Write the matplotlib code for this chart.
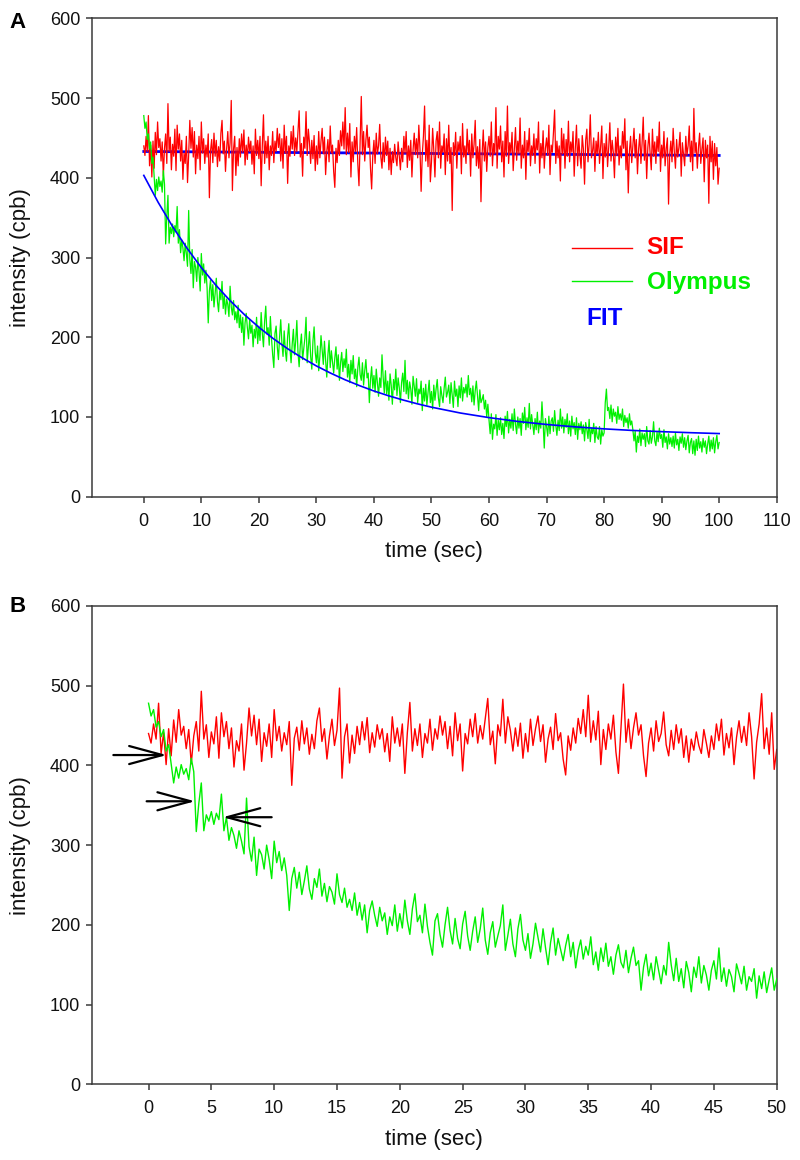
import numpy as np
import matplotlib
matplotlib.use("Agg")
import matplotlib.pyplot as plt

plt.rcParams['font.family'] = ['Liberation Sans', 'DejaVu Sans']

# ---------------- data ----------------
SAMPLE_STEP = 0.2  # seconds between samples

sif = [
    # 0 - 10 s
    440, 428, 452, 433, 478, 415, 441, 401, 446, 412, 457, 429, 470, 438, 449,
    421, 445, 402, 437, 455, 418, 493, 433, 451, 410, 442, 427, 461, 409, 466,
    436, 455, 421, 447, 398, 431, 418, 452, 394, 428, 472, 437, 463, 426, 458,
    405, 441, 424, 452, 410,
    # 10 - 20 s
    470, 431, 449, 418, 441, 426, 455, 375, 434, 448, 419, 456, 427, 447, 414,
    439, 421, 456, 472, 430, 446, 408, 437, 458, 425, 444, 497, 384, 436, 452,
    403, 438, 415, 449, 426, 455, 432, 460, 416, 441, 423, 451, 433, 446, 417,
    440, 405, 461, 428, 447,
    # 20 - 30 s
    424, 452, 390, 441, 479, 418, 446, 425, 452, 410, 440, 428, 458, 419, 446,
    433, 462, 438, 455, 421, 449, 412, 466, 431, 452, 393, 440, 427, 458, 436,
    465, 428, 450, 433, 459, 484, 426, 443, 402, 451, 437, 483, 428, 461, 444,
    418, 447, 424, 453, 409,
    # 30 - 40 s
    440, 417, 458, 425, 446, 462, 430, 451, 404, 433, 448, 420, 465, 431, 441,
    408, 388, 437, 419, 447, 428, 459, 440, 470, 436, 488, 429, 456, 432, 468,
    401, 445, 420, 452, 433, 463, 417, 390, 447, 502, 429, 458, 421, 447, 466,
    438, 451, 412, 386, 428,
    # 40 - 50 s
    447, 418, 456, 430, 440, 467, 426, 412, 444, 420, 451, 428, 446, 410, 437,
    404, 433, 419, 442, 425, 415, 445, 428, 410, 437, 420, 452, 431, 458, 413,
    440, 422, 447, 401, 435, 456, 429, 449, 425, 466, 436, 383, 429, 452, 490,
    421, 447, 414, 466, 395,
    # 50 - 60 s
    420, 462, 435, 401, 446, 458, 425, 470, 412, 440, 432, 455, 404, 449, 421,
    466, 418, 438, 359, 444, 428, 457, 412, 445, 433, 452, 405, 468, 426, 440,
    418, 461, 430, 447, 402, 455, 425, 442, 472, 415, 439, 412, 448, 370, 430,
    460, 421, 445, 408, 438,
    # 60 - 70 s
    452, 427, 470, 415, 443, 430, 488, 412, 452, 436, 465, 420, 446, 401, 458,
    427, 490, 418, 444, 431, 457, 409, 437, 463, 422, 446, 430, 475, 412, 441,
    425, 458, 398, 447, 433, 462, 415, 440, 428, 455, 418, 449, 435, 470, 406,
    443, 425, 459, 412, 437,
    # 70 - 80 s
    450, 428, 466, 404, 441, 432, 457, 485, 418, 446, 425, 440, 396, 462, 430,
    455, 412, 448, 427, 471, 420, 445, 432, 458, 402, 438, 466, 415, 449, 428,
    412, 453, 436, 392, 447, 461, 420, 442, 479, 425, 434, 450, 408, 446, 430,
    457, 418, 440, 465, 399,
    # 80 - 90 s
    443, 426, 455, 414, 438, 469, 421, 447, 432, 400, 451, 428, 462, 416, 440,
    425, 458, 437, 474, 410, 446, 381, 433, 452, 419, 440, 462, 425, 448, 405,
    436, 455, 418, 443, 476, 422, 447, 399, 438, 456, 430, 410, 461, 427, 445,
    418, 452, 433, 470, 408,
    # 90 - 100 s
    441, 425, 458, 415, 437, 450, 367, 429, 446, 420, 462, 433, 412, 448, 426,
    438, 457, 402, 444, 430, 415, 452, 428, 440, 465, 420, 446, 409, 487, 431,
    444, 412, 438, 456, 418, 436, 450, 395, 447, 425, 441, 368, 452, 420, 446,
    398, 443, 415, 438, 392,
    412,
]

olympus = [
    # 0 - 10 s
    478, 462, 470, 448, 455, 436, 445, 418, 426, 402, 378, 398, 384, 401, 389,
    396, 382, 409, 392, 317, 352, 378, 318, 338, 330, 342, 326, 340, 332, 364,
    318, 335, 306, 322, 312, 296, 318, 305, 289, 359, 298, 280, 310, 262, 295,
    288, 270, 300, 282, 258,
    # 10 - 20 s
    305, 278, 292, 268, 284, 262, 218, 258, 272, 246, 266, 238, 255, 274, 245,
    232, 258, 247, 270, 236, 252, 229, 248, 241, 226, 264, 238, 228, 246, 222,
    232, 218, 240, 212, 228, 206, 225, 190, 218, 230, 212, 198, 222, 205, 215,
    188, 210, 199, 225, 192,
    # 20 - 30 s
    214, 196, 231, 205, 188, 220, 239, 204, 212, 190, 226, 198, 178, 162, 205,
    214, 188, 172, 200, 222, 193, 176, 208, 183, 170, 201, 217, 186, 168, 192,
    210, 178, 195, 221, 181, 163, 190, 204, 172, 186, 199, 225, 168, 187, 207,
    176, 160, 195, 213, 181,
    # 30 - 40 s
    168, 189, 158, 176, 202, 184, 166, 195, 171, 150, 178, 196, 162, 183, 169,
    155, 174, 188, 160, 178, 146, 168, 181, 157, 173, 162, 185, 150, 166, 143,
    171, 154, 177, 148, 160, 138, 162, 175, 153, 146, 168, 140, 158, 172, 149,
    155, 118, 147, 163, 136,
    # 40 - 50 s
    152, 131, 160, 143, 126, 149, 137, 178, 150, 130, 158, 129, 145, 121, 154,
    140, 116, 147, 134, 160, 127, 149, 137, 118, 143, 155, 132, 171, 129, 146,
    123, 144, 135, 116, 151, 139, 126, 148, 118, 135, 129, 145, 108, 136, 120,
    141, 115, 131, 146, 118,
    # 50 - 60 s
    132, 110, 140, 121, 135, 147, 124, 113, 138, 127, 118, 136, 150, 125, 131,
    140, 117, 143, 128, 112, 145, 126, 135, 113, 139, 124, 149, 120, 137, 130,
    141, 125, 152, 128, 136, 119, 139, 115, 133, 145, 127, 108, 134, 118, 122,
    128, 110, 121, 100, 116,
    # 60 - 70 s
    96, 79, 104, 72, 91, 85, 103, 77, 96, 84, 99, 78, 92, 73, 101,
    88, 107, 80, 97, 86, 104, 83, 110, 91, 79, 100, 86, 98, 77, 105,
    92, 112, 84, 99, 87, 117, 85, 103, 90, 78, 98, 84, 106, 80, 95,
    86, 119, 93, 61, 98,
    # 70 - 80 s
    88, 76, 101, 79, 95, 99, 82, 108, 90, 77, 96, 83, 110, 86, 100,
    80, 97, 87, 104, 79, 95, 76, 101, 85, 93, 78, 99, 72, 92, 84,
    94, 79, 90, 70, 93, 84, 73, 97, 69, 86, 79, 92, 68, 88, 75,
    72, 88, 66, 84, 76,
    # 80 - 90 s
    80, 118, 135, 108, 112, 98, 115, 94, 110, 101, 106, 92, 113, 97, 104,
    96, 110, 88, 102, 93, 99, 86, 104, 90, 95, 84, 70, 82, 56, 76,
    68, 85, 64, 80, 72, 79, 63, 88, 70, 66, 83, 67, 75, 94, 70,
    64, 81, 69, 86, 73,
    # 90 - 100 s
    78, 62, 84, 68, 75, 60, 79, 66, 74, 63, 76, 61, 80, 65, 72,
    58, 75, 67, 79, 62, 74, 59, 70, 77, 55, 68, 73, 54, 70, 52,
    72, 58, 76, 61, 69, 56, 73, 62, 70, 54, 66, 76, 57, 71, 60,
    74, 55, 69, 77, 60,
    68,
]

# exponential fit of Olympus trace
fit_t = [0, 2.5, 5, 7.5, 10, 12.5, 15, 17.5, 20, 22.5, 25, 27.5, 30, 32.5, 35,
         37.5, 40, 42.5, 45, 47.5, 50, 55, 60, 65, 70, 75, 80, 85, 90, 95, 100]
fit_olympus = [403, 369.2, 338.9, 311.8, 287.3, 265.5, 245.9, 228.3, 212.5,
               198.3, 185.6, 174.3, 164.0, 154.9, 146.6, 139.3, 132.6, 126.7,
               121.4, 116.6, 112.3, 105.0, 99.2, 94.4, 90.6, 87.6, 85.1, 83.1,
               81.6, 80.3, 79.2]
# flat fit of SIF trace
fit_sif_t = [0, 100]
fit_sif = [433, 428]

x_ticks_A = [0, 10, 20, 30, 40, 50, 60, 70, 80, 90, 100, 110]
x_ticks_B = [0, 5, 10, 15, 20, 25, 30, 35, 40, 45, 50]
y_ticks = [0, 100, 200, 300, 400, 500, 600]

# arrow annotations in panel B: (tip_x, tip_y, tail_x, tail_y)
arrows_B = [(1.45, 413, -2.8, 413),
            (3.7, 355, -0.15, 355),
            (5.9, 335, 9.8, 335)]

# ---------------- styling ----------------
RED = '#ff0000'
GREEN = '#00f000'
BLUE = '#0000ff'
SPINE = '#3a3a3a'

t_sif = np.arange(len(sif)) * SAMPLE_STEP
t_oly = np.arange(len(olympus)) * SAMPLE_STEP
sif_a = np.array(sif, dtype=float)
oly_a = np.array(olympus, dtype=float)

fig = plt.figure(figsize=(8, 11.6), dpi=100)
axA = fig.add_axes([0.115, 0.5718, 0.8559, 0.4124])
axB = fig.add_axes([0.115, 0.0653, 0.8559, 0.4123])


def style(ax, xlim, xticks):
    ax.set_xlim(*xlim)
    ax.set_ylim(0, 600)
    ax.set_xticks(xticks)
    ax.set_yticks(y_ticks)
    for s in ax.spines.values():
        s.set_color(SPINE)
        s.set_linewidth(1.1)
    ax.tick_params(axis='both', direction='out', length=4.5, width=1.1,
                   color=SPINE, labelsize=13, labelcolor='#111111')
    ax.tick_params(axis='x', pad=7)
    ax.tick_params(axis='y', pad=4)
    ax.set_xlabel('time (sec)', fontsize=16, color='#111111')
    ax.set_ylabel('intensity (cpb)', fontsize=16, color='#111111')
    ax.xaxis.set_label_coords(0.5, -0.115)
    ax.xaxis.label.set_va('center')
    ax.yaxis.set_label_coords(-0.105, 0.5)
    ax.yaxis.label.set_va('center')


# ---- Panel A ----
axA.plot(fit_sif_t, fit_sif, color=BLUE, lw=2.0, zorder=1)
axA.plot(t_sif, sif_a, color=RED, lw=0.9, zorder=2)
axA.plot(t_oly, oly_a, color=GREEN, lw=0.9, zorder=3)
axA.plot(fit_t, fit_olympus, color=BLUE, lw=1.2, zorder=4)
style(axA, (-9, 110), x_ticks_A)

# legend (drawn manually to match layout)
axA.plot([0.7007, 0.7883], [0.5205, 0.5205], transform=axA.transAxes,
         color=RED, lw=1.0)
axA.plot([0.7007, 0.7883], [0.451, 0.451], transform=axA.transAxes,
         color=GREEN, lw=1.0)
axA.text(0.810, 0.520, 'SIF', transform=axA.transAxes, color=RED,
         fontsize=17.5, fontweight='bold', va='center', ha='left')
axA.text(0.810, 0.447, 'Olympus', transform=axA.transAxes, color=GREEN,
         fontsize=17.5, fontweight='bold', va='center', ha='left')
axA.text(0.722, 0.372, 'FIT', transform=axA.transAxes, color=BLUE,
         fontsize=17.5, fontweight='bold', va='center', ha='left')

# ---- Panel B ----
mB_s = t_sif <= 50
mB_o = t_oly <= 50
axB.plot(t_sif[mB_s], sif_a[mB_s], color=RED, lw=1.0, zorder=2)
axB.plot(t_oly[mB_o], oly_a[mB_o], color=GREEN, lw=1.0, zorder=3)
style(axB, (-4.5, 50), x_ticks_B)

for tx, ty, sx, sy in arrows_B:
    axB.annotate('', xy=(tx, ty), xytext=(sx, sy),
                 arrowprops=dict(arrowstyle='->,head_length=2.4,head_width=0.65',
                                 lw=1.6, color='black', mutation_scale=10,
                                 shrinkA=0, shrinkB=0),
                 zorder=5)

fig.text(18 / 800, 1 - 23 / 1160, 'A', fontsize=16, fontweight='bold',
         ha='center', va='center')
fig.text(18 / 800, 1 - 607 / 1160, 'B', fontsize=16, fontweight='bold',
         ha='center', va='center')

fig.savefig('out.png', dpi=100)
